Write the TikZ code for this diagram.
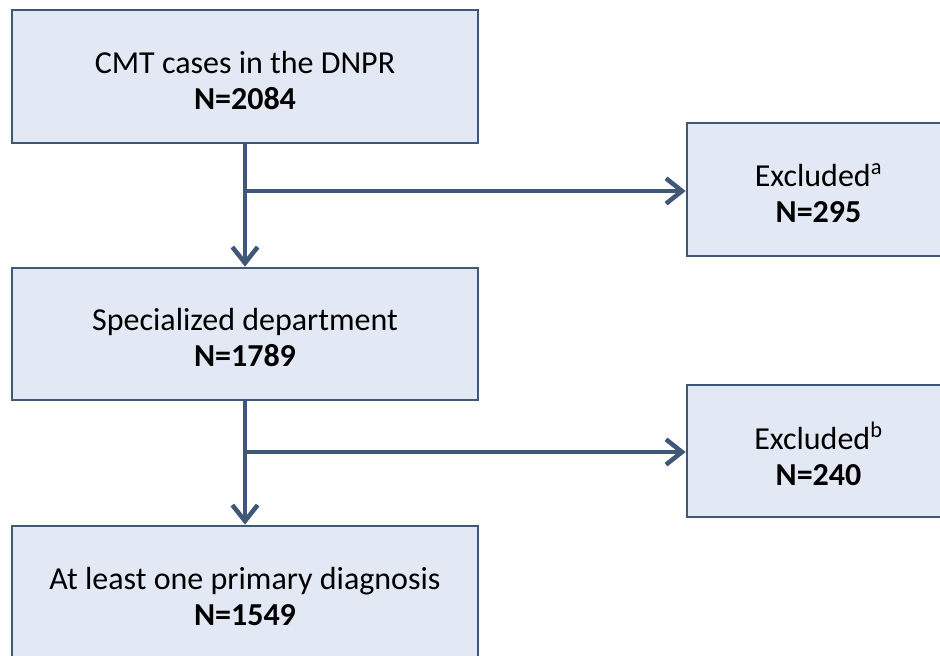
\documentclass[tikz,border=0pt]{standalone}
\usepackage{fontspec}
\setmainfont{Carlito}
\usetikzlibrary{arrows.meta}
\definecolor{edgeblue}{HTML}{3F5878}
\definecolor{boxfill}{HTML}{E3E9F4}
\newcommand{\twolines}[2]{\raisebox{-12pt}[0pt][0pt]{\begin{tabular}{@{}c@{}}#1\\\textbf{#2}\end{tabular}}}
\begin{document}
\begin{tikzpicture}[x=0.75pt,y=-0.75pt,
  flowbox/.style={draw=edgeblue,fill=boxfill,line width=2pt,inner sep=0pt,
    align=center,font=\fontsize{24}{27}\selectfont,text=black},
  arr/.style={draw=edgeblue,line width=2.6pt,
    -{Straight Barb[length=12pt,width=19pt,line width=3.4pt]}}]
\useasboundingbox (0,0) rectangle (940,656);
\clip (0,0) rectangle (940,656);
\fill[white] (0,0) rectangle (940,656);
\node[flowbox,minimum width=349.5pt,minimum height=99.75pt] (b1) at (245,76.5)
  {\twolines{CMT cases in the DNPR}{N=2084}};
\node[flowbox,minimum width=197.25pt,minimum height=99.75pt] (b2) at (818.5,189.5)
  {\twolines{Excluded\textsuperscript{a}}{N=295}};
\node[flowbox,minimum width=349.5pt,minimum height=99pt] (b3) at (245,334)
  {\twolines{Specialized department}{N=1789}};
\node[flowbox,minimum width=197.25pt,minimum height=99pt] (b4) at (818.5,451)
  {\twolines{Excluded\textsuperscript{b}}{N=240}};
\node[flowbox,minimum width=349.5pt,minimum height=99.75pt] (b5) at (245,592.5)
  {\twolines{At least one primary diagnosis}{N=1549}};
\coordinate (j1) at (245,191);
\coordinate (j2) at (245,452);
\draw[arr] (b1.south) -- (b3.north);
\draw[arr] (j1) -- (j1 -| b2.west);
\draw[arr] (b3.south) -- (b5.north);
\draw[arr] (j2) -- (j2 -| b4.west);
\end{tikzpicture}
\end{document}
